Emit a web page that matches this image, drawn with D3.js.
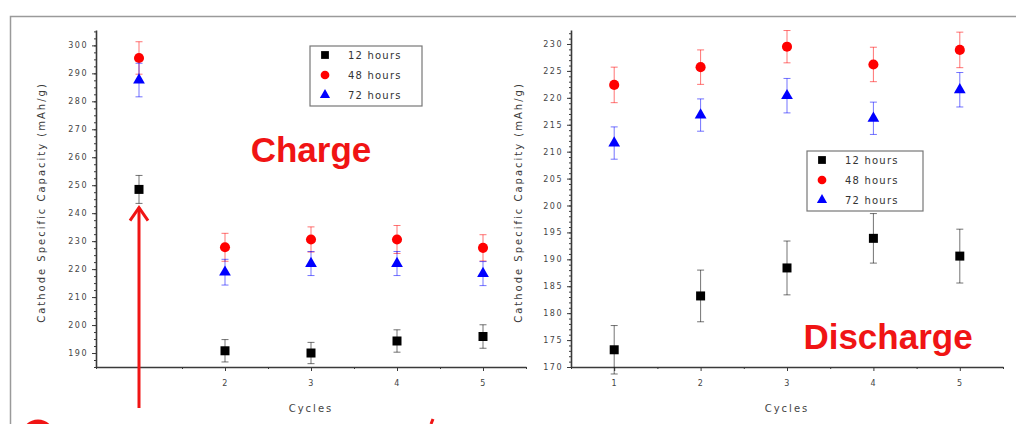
<!DOCTYPE html>
<html>
<head>
<meta charset="utf-8">
<script src="https://cdn.jsdelivr.net/npm/d3@7"></script>
<style>
  body { margin: 0; background: #fff; }
  .tick text { font-family: "DejaVu Sans", sans-serif; }
</style>
</head>
<body>
<div class="container"></div>
<script>
  var width = 1016,
    height = 424;

  // data
  var cycles = [1, 2, 3, 4, 5];
  var seriesNames = ["12 hours", "48 hours", "72 hours"];
  var seriesColors = ["#000000", "#ff0000", "#0000ff"];

  var chargeH12 = [248.5, 190.8, 190.0, 194.3, 195.9];
  var chargeH12Err = [5.0, 4.0, 3.8, 4.0, 4.2];
  var chargeH48 = [295.5, 227.8, 230.6, 230.6, 227.6];
  var chargeH48Err = [5.8, 5.0, 4.5, 5.0, 4.7];
  var chargeH72 = [287.6, 218.9, 222.0, 222.0, 218.4];
  var chargeH72Err = [6.0, 4.6, 4.3, 4.3, 4.3];

  var dischargeH12 = [173.2, 183.2, 188.4, 193.9, 190.6];
  var dischargeH12Err = [4.5, 4.8, 5.0, 4.6, 5.0];
  var dischargeH48 = [222.4, 225.7, 229.5, 226.2, 228.9];
  var dischargeH48Err = [3.3, 3.2, 3.0, 3.2, 3.3];
  var dischargeH72 = [211.6, 216.8, 220.4, 216.2, 221.5];
  var dischargeH72Err = [3.0, 3.0, 3.2, 3.0, 3.2];

  var chargeTicks = [190, 200, 210, 220, 230, 240, 250, 260, 270, 280, 290, 300];
  var dischargeTicks = [170, 175, 180, 185, 190, 195, 200, 205, 210, 215, 220, 225, 230];
  var chargeXLabels = ["", "2", "3", "4", "5"];
  var dischargeXLabels = ["1", "2", "3", "4", "5"];

  var svg = d3.select(".container").append("svg")
    .attr("width", width)
    .attr("height", height);

  // outer frame
  svg.append("path")
    .attr("d", "M10.5," + height + "V16.5H" + width)
    .attr("fill", "none")
    .attr("stroke", "#9a9a9a")
    .attr("stroke-width", 1.5);

  var symbols = [d3.symbolSquare, d3.symbolCircle, d3.symbolTriangle];
  var symbolSizes = [81, 80, 60];

  function drawPanel(cfg) {
    var x = d3.scaleLinear().domain([0.5, 5.5]).range([cfg.left, cfg.right]);
    var y = d3.scaleLinear().domain(cfg.yDomain).range([cfg.bottom, cfg.top]);

    var g = svg.append("g");

    // minor ticks
    g.append("g")
      .attr("transform", "translate(" + cfg.left + ",0)")
      .call(d3.axisLeft(y).tickValues(d3.range(cfg.yDomain[0], cfg.yDomain[1], cfg.minorStep)).tickSize(2).tickFormat(""))
      .call(function(a) { a.select(".domain").remove(); });
    g.append("g")
      .attr("transform", "translate(0," + cfg.bottom + ")")
      .call(d3.axisBottom(x).tickValues([0.5, 1.5, 2.5, 3.5, 4.5, 5.5]).tickSize(2).tickFormat(""))
      .call(function(a) { a.select(".domain").remove(); });

    var yAxis = g.append("g")
      .attr("transform", "translate(" + cfg.left + ",0)")
      .call(d3.axisLeft(y).tickValues(cfg.ticks).tickSize(4).tickPadding(4).tickSizeOuter(0));
    var xAxis = g.append("g")
      .attr("transform", "translate(0," + cfg.bottom + ")")
      .call(d3.axisBottom(x).tickValues(cycles).tickSize(4).tickPadding(9).tickSizeOuter(0)
        .tickFormat(function(d, i) { return cfg.xLabels[i]; }));

    [yAxis, xAxis].forEach(function(a) {
      a.selectAll(".domain").attr("stroke", "#3a3a3a").attr("stroke-width", 1.6);
      a.selectAll("line").attr("stroke", "#3a3a3a");
      a.selectAll("text")
        .attr("fill", "#444")
        .style("font-size", "8px")
        .style("letter-spacing", "1.5px");
    });
    g.selectAll("line").attr("stroke", "#3a3a3a");

    g.append("text")
      .attr("transform", "translate(" + cfg.yLabelX + "," + ((cfg.top + cfg.bottom) / 2 + 4) + ") rotate(-90)")
      .attr("text-anchor", "middle")
      .attr("fill", "#3a3a3a")
      .style("font-family", "DejaVu Sans, sans-serif")
      .style("font-size", "10px")
      .style("letter-spacing", "2px")
      .text("Cathode Specific Capacity (mAh/g)");

    g.append("text")
      .attr("x", (cfg.left + cfg.right) / 2)
      .attr("y", cfg.bottom + 45)
      .attr("text-anchor", "middle")
      .attr("fill", "#444")
      .style("font-family", "DejaVu Sans, sans-serif")
      .style("font-size", "10px")
      .style("letter-spacing", "2px")
      .text("Cycles");

    // series with error bars
    cfg.series.forEach(function(s, si) {
      var col = seriesColors[si];
      var sg = g.append("g");
      var pts = cycles.map(function(c, i) { return { c: c, v: s.values[i], e: s.errors[i] }; });

      var eb = sg.selectAll(".err").data(pts).enter().append("g")
        .attr("stroke", col)
        .attr("stroke-opacity", 0.55)
        .attr("stroke-width", 1);
      eb.append("line")
        .attr("x1", function(d) { return x(d.c); })
        .attr("x2", function(d) { return x(d.c); })
        .attr("y1", function(d) { return y(d.v - d.e); })
        .attr("y2", function(d) { return y(d.v + d.e); });
      eb.append("line")
        .attr("x1", function(d) { return x(d.c) - 3.5; })
        .attr("x2", function(d) { return x(d.c) + 3.5; })
        .attr("y1", function(d) { return y(d.v + d.e); })
        .attr("y2", function(d) { return y(d.v + d.e); });
      eb.append("line")
        .attr("x1", function(d) { return x(d.c) - 3.5; })
        .attr("x2", function(d) { return x(d.c) + 3.5; })
        .attr("y1", function(d) { return y(d.v - d.e); })
        .attr("y2", function(d) { return y(d.v - d.e); });

      sg.selectAll(".pt").data(pts).enter().append("path")
        .attr("d", d3.symbol().type(symbols[si]).size(symbolSizes[si]))
        .attr("transform", function(d) { return "translate(" + x(d.c) + "," + y(d.v) + ")"; })
        .attr("fill", col);
    });

    // legend
    var lg = g.append("g").attr("transform", "translate(" + cfg.legend[0] + "," + cfg.legend[1] + ")");
    lg.append("rect")
      .attr("width", cfg.legend[2])
      .attr("height", 60)
      .attr("fill", "#fff")
      .attr("stroke", "#777")
      .attr("stroke-width", 1.2);
    seriesNames.forEach(function(n, i) {
      lg.append("path")
        .attr("d", d3.symbol().type(symbols[i]).size(symbolSizes[i] * 0.75))
        .attr("transform", "translate(15," + (9 + i * 20) + ")")
        .attr("fill", seriesColors[i]);
      lg.append("text")
        .attr("x", 38)
        .attr("y", 9 + i * 20)
        .attr("dy", "0.35em")
        .attr("fill", "#333")
        .style("font-family", "DejaVu Sans, sans-serif")
        .style("font-size", "10px")
        .style("letter-spacing", "1.2px")
        .text(n);
    });

    g.append("text")
      .attr("x", cfg.title[0])
      .attr("y", cfg.title[1])
      .attr("text-anchor", "middle")
      .attr("fill", "#f01414")
      .style("font-family", "Liberation Sans, Arial, sans-serif")
      .style("font-weight", "bold")
      .style("font-size", "35px")
      .text(cfg.title[2]);

    return { x: x, y: y };
  }

  var charge = drawPanel({
    left: 96, right: 526, top: 30, bottom: 367,
    yDomain: [185, 305.5], ticks: chargeTicks, minorStep: 2.5,
    xLabels: chargeXLabels, yLabelX: 45,
    series: [
      { values: chargeH12, errors: chargeH12Err },
      { values: chargeH48, errors: chargeH48Err },
      { values: chargeH72, errors: chargeH72Err }
    ],
    legend: [310, 46, 112],
    title: [311, 162, "Charge"]
  });

  var discharge = drawPanel({
    left: 571, right: 1003, top: 30, bottom: 367,
    yDomain: [170, 232.6], ticks: dischargeTicks, minorStep: 1,
    xLabels: dischargeXLabels, yLabelX: 522,
    series: [
      { values: dischargeH12, errors: dischargeH12Err },
      { values: dischargeH48, errors: dischargeH48Err },
      { values: dischargeH72, errors: dischargeH72Err }
    ],
    legend: [807, 151, 116],
    title: [888, 349, "Discharge"]
  });

  // red arrow pointing at the first charge cycle
  var ax = charge.x(1);
  svg.append("line")
    .attr("x1", ax).attr("x2", ax)
    .attr("y1", 408).attr("y2", charge.y(242))
    .attr("stroke", "#f01414")
    .attr("stroke-width", 3);
  svg.append("path")
    .attr("d", "M" + (ax - 9) + "," + (charge.y(242) + 13) + "L" + ax + "," + charge.y(242) + "L" + (ax + 9) + "," + (charge.y(242) + 13))
    .attr("fill", "none")
    .attr("stroke", "#f01414")
    .attr("stroke-width", 3);

  // cut-off red annotations at the bottom edge
  svg.append("circle")
    .attr("cx", 38).attr("cy", 436).attr("r", 14)
    .attr("fill", "none")
    .attr("stroke", "#f01414")
    .attr("stroke-width", 5);
  svg.append("line")
    .attr("x1", 431).attr("x2", 433)
    .attr("y1", 424).attr("y2", 419)
    .attr("stroke", "#f01414")
    .attr("stroke-width", 3);
</script>
</body>
</html>
